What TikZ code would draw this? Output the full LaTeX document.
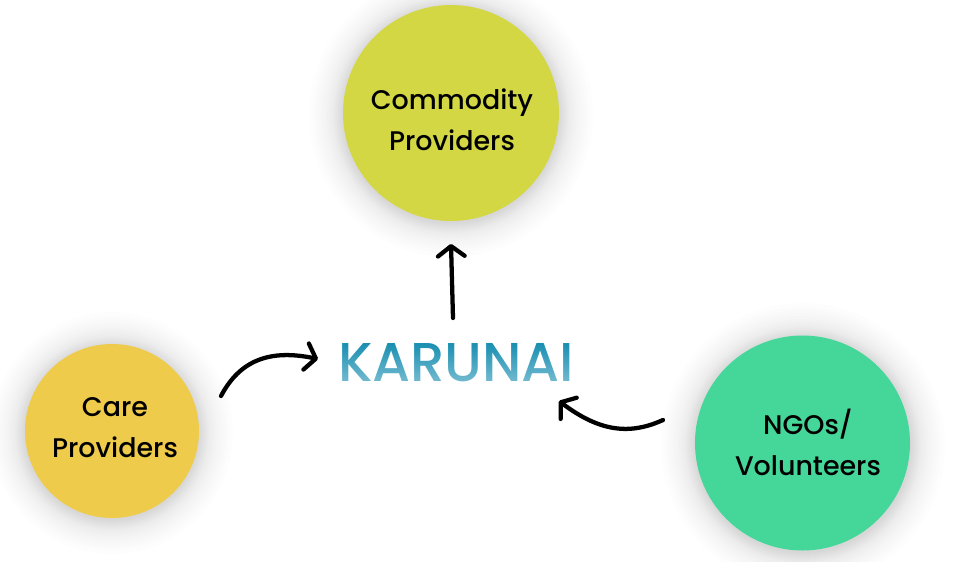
\documentclass[tikz,border=0pt]{standalone}
\usepackage{fontspec}
\setmainfont{Poppins Medium}
\newfontfamily\logofont[LetterSpace=-0.4]{Poppins Medium}
\usetikzlibrary{arrows.meta}
\definecolor{commoditycol}{HTML}{D2D743}
\definecolor{carecol}{HTML}{EECB4A}
\definecolor{ngocol}{HTML}{45D699}
\definecolor{logotop}{HTML}{1A8FB2}
\tikzset{
	provider/.style={circle, inner sep=0pt, fill=#1},
	providertext/.style={align=center, inner sep=0pt, font=\fontsize{20.2}{30.75}\selectfont},
	flow/.style={line width=3.2pt, line cap=round, -{Straight Barb[length=7.5pt,width=20pt,line width=3.2pt,round]}},
	halo/.style={fill=black, opacity=0.008},
	logotext/.style={inner sep=0pt, text=logotop, font=\fontsize{41}{41}\logofont}
}
\begin{document}
\begin{tikzpicture}[x=0.75pt, y=-0.75pt]
	\useasboundingbox (0,0) rectangle (957,561);
	
	% soft shadows
	\foreach \cx/\cy/\r in {451/115/108, 112/433/87, 803/445/108}{
		\foreach \d in {0,1,2,3,4,5,6,7,8,9,10,12,14,16,18,21,24,27,30,34}{
			\fill[halo] (\cx,\cy) circle({(\r+\d)*0.75pt});
		}
	}
	
	\node[provider=commoditycol, minimum size=162pt] (commodity) at (451,113) {};
	\node[provider=carecol, minimum size=130.5pt] (care) at (112,431) {};
	\node[provider=ngocol, minimum size=161.25pt] (ngo) at (802.5,443) {};
	
	\node[providertext] (commoditytext) at (452,120) {Commodity\\Providers};
	\node[providertext] (caretext) at (115,428) {Care\\Providers};
	\node[providertext] (ngotext) at (808,442) {NGOs/\\Volunteers};
	
	% logo, paling towards the bottom
	\node[logotext] (karunai) at (456,362.5) {KARUNAI};
	\foreach \s in {0,...,39}{
		\pgfmathsetmacro{\paleval}{\s*0.01}
		\fill[white, opacity=\paleval] (330,343+\s) rectangle (582,344+\s);
	}
	
	\coordinate (upstart) at (453,318);
	\coordinate (upend) at (451,244);
	\coordinate (carestart) at (221,396);
	\coordinate (careend) at (318,359);
	\coordinate (ngostart) at (663,420);
	\coordinate (ngoend) at (559,401);
	
	\draw[flow] (upstart) -- (upend);
	\draw[flow] (carestart) .. controls (240,360) and (270,349) .. (careend);
	\draw[flow] (ngostart) .. controls (630,435) and (600,432) .. (ngoend);
\end{tikzpicture}
\end{document}
